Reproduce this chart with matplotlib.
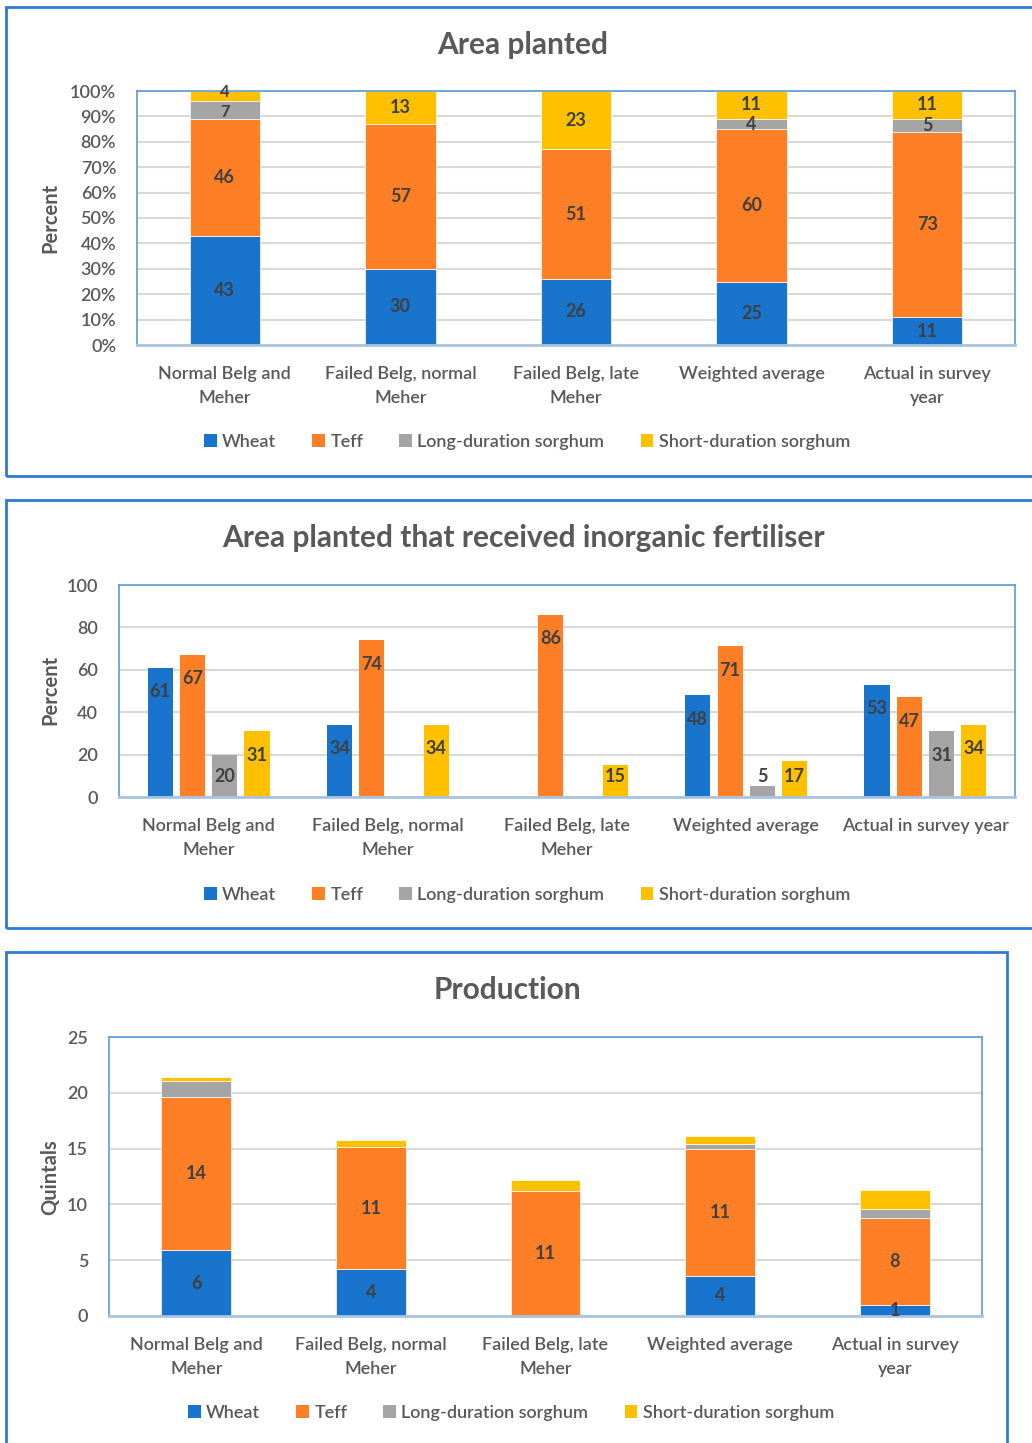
import matplotlib
matplotlib.use("Agg")
import matplotlib.pyplot as plt
from matplotlib.patches import Rectangle, Patch
import numpy as np

plt.rcParams['font.family'] = ['Lato', 'DejaVu Sans']

# Data
series = ["Wheat", "Teff", "Long-duration sorghum", "Short-duration sorghum"]
colors = ["#1874CD", "#FF7F27", "#A5A5A5", "#FFC000"]

cats_stacked = ["Normal Belg and\nMeher", "Failed Belg, normal\nMeher", "Failed Belg, late\nMeher",
                "Weighted average", "Actual in survey\nyear"]
cats_fert = ["Normal Belg and\nMeher", "Failed Belg, normal\nMeher", "Failed Belg, late\nMeher",
             "Weighted average", "Actual in survey year"]

area_wheat = [43, 30, 26, 25, 11]
area_teff = [46, 57, 51, 60, 73]
area_long = [7, 0, 0, 4, 5]
area_short = [4, 13, 23, 11, 11]

fert_wheat = [61, 34, 0, 48, 53]
fert_teff = [67, 74, 86, 71, 47]
fert_long = [20, 0, 0, 5, 31]
fert_short = [31, 34, 15, 17, 34]

prod_wheat = [5.9, 4.2, 0, 3.6, 0.95]
prod_teff = [13.7, 10.95, 11.2, 11.4, 7.85]
prod_long = [1.45, 0, 0, 0.45, 0.8]
prod_short = [0.35, 0.65, 1.0, 0.7, 1.65]

W, H = 1032, 1443
fig = plt.figure(figsize=(W / 100, H / 100), dpi=100)

text_col = "#404040"
title_col = "#595959"
grid_col = "#D9D9D9"
frame_col = "#2E7BCF"


def px(x, y):
    return x / W, 1 - y / H


def frame(x0, y0, x1, y1):
    fig.patches.append(Rectangle((x0 / W, 1 - y1 / H), (x1 - x0) / W, (y1 - y0) / H,
                                 transform=fig.transFigure, fill=False,
                                 edgecolor=frame_col, linewidth=2))


def make_axes(x0, y0, x1, y1):
    ax = fig.add_axes([x0 / W, 1 - y1 / H, (x1 - x0) / W, (y1 - y0) / H])
    for s in ["top", "left", "right"]:
        ax.spines[s].set_color("#5B9BD5")
        ax.spines[s].set_linewidth(1.2)
    ax.spines["bottom"].set_color("#A9C4E0")
    ax.spines["bottom"].set_linewidth(2)
    ax.yaxis.grid(True, color=grid_col, linewidth=1.5)
    ax.set_axisbelow(True)
    ax.tick_params(length=0, labelsize=13, colors=title_col)
    ax.tick_params(axis="y", pad=15)
    ax.tick_params(axis="x", pad=15)
    ax.set_xlim(-0.5, 4.5)
    return ax


def set_ticks(ax, cats):
    ax.set_xticks(np.arange(5))
    ax.set_xticklabels(cats, linespacing=1.6)
    for t in ax.get_xticklabels() + ax.get_yticklabels():
        t.set_fontweight("semibold")


def deco(title, tx, ty, ylab, ly, legy, legx):
    fig.text(*px(tx, ty), title, ha="center", va="center", fontsize=21.5,
             fontweight="bold", color=title_col)
    fig.text(*px(50, ly), ylab, ha="center", va="center", rotation=90,
             fontsize=14.5, fontweight="bold", color=title_col)
    handles = [Patch(facecolor=c, edgecolor="none") for c in colors]
    fig.legend(handles, series, loc="center", bbox_to_anchor=px(legx, legy),
               ncol=4, frameon=False, handlelength=0.7, handleheight=0.7,
               handletextpad=0.3, columnspacing=2.0, labelcolor=title_col,
               prop={"size": 13, "weight": "semibold"})


def stacked(ax, data, labelled, fmt):
    x = np.arange(5)
    bottom = np.zeros(5)
    for vals, c, lab in zip(data, colors, labelled):
        vals = np.array(vals, dtype=float)
        ax.bar(x, vals, 0.4, bottom=bottom, color=c, edgecolor="white", linewidth=0.5)
        if lab:
            for xi, b, v in zip(x, bottom, vals):
                if v > 0:
                    ax.text(xi, b + v / 2, fmt(v), ha="center", va="center",
                            fontsize=13, fontweight="bold", color=text_col)
        bottom += vals


# Panel 1: Area planted
frame(6, 7, 1045, 476)
ax1 = make_axes(137, 91, 1015, 345)
x = np.arange(5)
bottom = np.zeros(5)
for vals, c in zip([area_wheat, area_teff, area_long, area_short], colors):
    vals = np.array(vals, dtype=float)
    ax1.bar(x, vals, 0.4, bottom=bottom, color=c, edgecolor="white", linewidth=0.5)
    for xi, b, v in zip(x, bottom, vals):
        if v <= 0:
            continue
        y = b + v / 2
        size = 13
        # thin segments at the top of the first bar: nudge apart slightly
        if v < 8 and b + v >= 99:
            y, size = b + v - 0.5, 12
        elif v < 8 and b + v < 99 and area_short[xi] < 8:
            y, size = b + v / 2 - 0.8, 12
        ax1.text(xi, y, "%d" % round(v), ha="center", va="center",
                 fontsize=size, fontweight="bold", color=text_col)
    bottom += vals
ax1.set_ylim(0, 100)
ax1.set_yticks(np.arange(0, 101, 10))
ax1.set_yticklabels(["%d%%" % t for t in range(0, 101, 10)])
set_ticks(ax1, cats_stacked)
deco("Area planted", 523, 45, "Percent", 218, 442, 527)

# Panel 2: fertiliser
frame(6, 500, 1045, 928)
ax2 = make_axes(119, 585, 1015, 797)
ax2.set_ylim(0, 100)
ax2.set_yticks(np.arange(0, 101, 20))
bw = 0.14
pitch = 0.18
for i, (vals, c) in enumerate(zip([fert_wheat, fert_teff, fert_long, fert_short], colors)):
    xs = np.arange(5) + (i - 1.5) * pitch
    ax2.bar(xs, vals, bw, color=c)
    for xi, v in zip(xs, vals):
        if v > 0:
            ax2.text(xi, max(v - 11.3, 9.9), "%d" % v, ha="center", va="center",
                     fontsize=13, fontweight="bold", color=text_col)
set_ticks(ax2, cats_fert)
deco("Area planted that received inorganic fertiliser", 523, 538, "Percent", 690, 895, 527)

# Panel 3: production
frame(6, 952, 1007, 1460)
ax3 = make_axes(109, 1037, 982, 1316)
stacked(ax3, [prod_wheat, prod_teff, prod_long, prod_short], [True, True, False, False],
        lambda v: "%d" % round(v))
ax3.set_ylim(0, 25)
ax3.set_yticks(np.arange(0, 26, 5))
set_ticks(ax3, cats_stacked)
deco("Production", 507, 990, "Quintals", 1177, 1413, 511)

fig.savefig("out.png", dpi=100)
